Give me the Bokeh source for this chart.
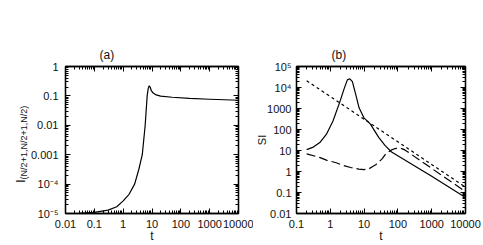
from bokeh.plotting import figure
from bokeh.models import LogAxis, FixedTicker, Range1d, Div
from bokeh.layouts import row
from bokeh.embed import file_html
from bokeh.resources import INLINE

# ---------------- data: panel (a) ----------------
t_a = [0.01, 0.03, 0.1, 0.3, 0.6, 1.0, 1.6, 2.5, 3.5, 4.6, 5.8, 6.8, 7.4, 8.0, 8.6,
       9.5, 11, 14, 20, 50, 200, 1000, 10000]
I_a = [1.0e-5, 1.02e-5, 1.1e-5, 1.3e-5, 1.7e-5, 2.7e-5, 4.5e-5, 1.0e-4, 3.2e-4, 1.0e-3,
       1.0e-2, 0.1, 0.18, 0.22, 0.2, 0.15, 0.125, 0.108, 0.098, 0.09, 0.082, 0.077, 0.071]
xa_ticks = [0.01, 0.1, 1, 10, 100, 1000, 10000]
xa_labels = ["0.01", "0.1", "1", "10", "100", "1000", "10000"]
ya_ticks = [1e-5, 1e-4, 1e-3, 1e-2, 1e-1, 1]
ya_labels = ["10\u207b\u2075", "10\u207b\u2074", "0.001", "0.01", "0.1", "1"]

# ---------------- data: panel (b) ----------------
t_b_solid = [0.2, 0.3, 0.49, 0.77, 1.2, 1.87, 2.6, 3.2, 3.8, 4.5, 5.7, 7.1, 9.9, 15.4,
             27, 42, 65, 1000, 10000]
SI_solid = [11, 14, 24, 60, 255, 1850, 9300, 2.3e4, 2.6e4, 1.9e4, 4500, 1080, 360, 180,
            42, 17, 8.5, 0.6, 0.058]
t_b_long = [0.2, 0.5, 0.8, 1.5, 2.3, 4, 7, 10, 14, 17, 22, 27, 35, 42, 55, 65, 80, 100,
            130, 160, 1000, 10000]
SI_long = [6.9, 4.6, 3.4, 2.6, 2.0, 1.55, 1.3, 1.22, 1.35, 1.65, 2.1, 2.8, 4.2, 6.3, 9.0,
           10.7, 12.2, 13, 12.3, 10.7, 1.4, 0.11]
t_b_short = [0.2, 10000]
SI_short = [2.1e4, 0.18]
xb_ticks = [0.1, 1, 10, 100, 1000, 10000]
xb_labels = ["0.1", "1", "10", "100", "1000", "10000"]
yb_ticks = [0.01, 0.1, 1, 10, 100, 1000, 1e4, 1e5]
yb_labels = ["0.01", "0.1", "1", "10", "100", "1000", "10\u2074", "10\u2075"]

FONT = "Liberation Sans"
TXT = "#111111"
H = 245


def minor(ticks):
    out = []
    for t in ticks[:-1]:
        for k in range(2, 10):
            out.append(t * k)
    return out


def style_axis(ax, ticks, labels, standoff, show=True):
    ax.axis_line_color = "black"
    ax.axis_line_width = 1.3
    ax.major_tick_line_color = "black"
    ax.minor_tick_line_color = "black"
    ax.major_tick_in = 5
    ax.major_tick_out = 0
    ax.minor_tick_in = 3
    ax.minor_tick_out = 0
    ax.major_label_standoff = standoff
    ax.major_label_text_font = FONT
    ax.major_label_text_color = TXT
    if show:
        ax.major_label_text_font_size = "11px"
        ax.major_label_overrides = dict(zip(ticks, labels))
    else:
        ax.major_label_text_font_size = "1px"
        ax.major_label_overrides = {t: "" for t in ticks}


def style_label(ax, text, size, standoff):
    ax.axis_label = text
    ax.axis_label_text_font = FONT
    ax.axis_label_text_font_size = size
    ax.axis_label_text_font_style = "normal"
    ax.axis_label_text_color = TXT
    ax.axis_label_standoff = standoff


def make_fig(width, bl, br, bt, bb, xr, yr, xt, xl, yt, yl, ystand):
    p = figure(width=width, height=H, x_axis_type="log", y_axis_type="log",
               x_range=Range1d(*xr), y_range=Range1d(*yr),
               output_backend="svg", toolbar_location=None,
               min_border_left=bl, min_border_right=br,
               min_border_top=bt, min_border_bottom=bb)
    p.grid.visible = False
    p.outline_line_color = "black"
    p.outline_line_width = 1.3
    p.background_fill_color = "white"
    p.border_fill_color = None
    bottom = p.below[0]
    left = p.left[0]
    bottom.ticker = FixedTicker(ticks=xt, minor_ticks=minor(xt))
    left.ticker = FixedTicker(ticks=yt, minor_ticks=minor(yt))
    style_axis(bottom, xt, xl, 6)
    style_axis(left, yt, yl, ystand)
    style_label(bottom, "t", "12px", -2)
    top = LogAxis(ticker=FixedTicker(ticks=xt, minor_ticks=minor(xt)))
    style_axis(top, xt, xl, 4, show=False)
    p.add_layout(top, "above")
    right = LogAxis(ticker=FixedTicker(ticks=yt, minor_ticks=minor(yt)))
    style_axis(right, yt, yl, 0, show=False)
    p.add_layout(right, "right")
    p.title.text_font = FONT
    p.title.text_font_size = "12px"
    p.title.text_font_style = "normal"
    p.title.text_color = TXT
    p.title.align = "left"
    return p, left


# ---------------- panel (a) ----------------
pa, left_a = make_fig(226, 35, 15, 65, 31, (0.01, 10000), (1e-5, 1),
                      xa_ticks, xa_labels, ya_ticks, ya_labels, 7)
pa.line(t_a, I_a, line_color="black", line_width=1.2)
pa.title.text = "(a)"
pa.title.offset = 34

# ---------------- panel (b) ----------------
pb, left_b = make_fig(230, 38, 18, 66, 30, (0.1, 10000), (0.01, 1e5),
                      xb_ticks, xb_labels, yb_ticks, yb_labels, 5)
pb.line(t_b_solid, SI_solid, line_color="black", line_width=1.2)
pb.line(t_b_long, SI_long, line_color="black", line_width=1.2, line_dash="9 4")
pb.line(t_b_short, SI_short, line_color="black", line_width=1.2, line_dash="3 3")
pb.title.text = "(b)"
pb.title.offset = 35
style_label(left_b, "SI", "11px", -4)

# ---------------- y label of panel (a): I with subscript ----------------
ylab_html = (
    '<div style="position:relative;width:27px;height:245px;overflow:visible;">'
    '<div style="position:absolute;left:0;top:0;width:245px;height:27px;line-height:27px;'
    "font-size:13px;font-family:'Liberation Sans',Arial,sans-serif;color:#111111;"
    'white-space:nowrap;box-sizing:border-box;padding-left:62px;'
    'transform-origin:0 0;transform:translate(0px,245px) rotate(-90deg);">'
    '<span style="position:relative;top:7px;">I<span style="font-size:9px;'
    'line-height:1;vertical-align:-2px;">(N/2+1,N/2+1,N/2)</span></span>'
    '</div></div>'
)
ylab = Div(text=ylab_html, width=27, height=H, margin=0, styles={"overflow": "visible"})

layout = row(ylab, pa, pb)
open("out.html", "w").write(file_html(layout, INLINE))
